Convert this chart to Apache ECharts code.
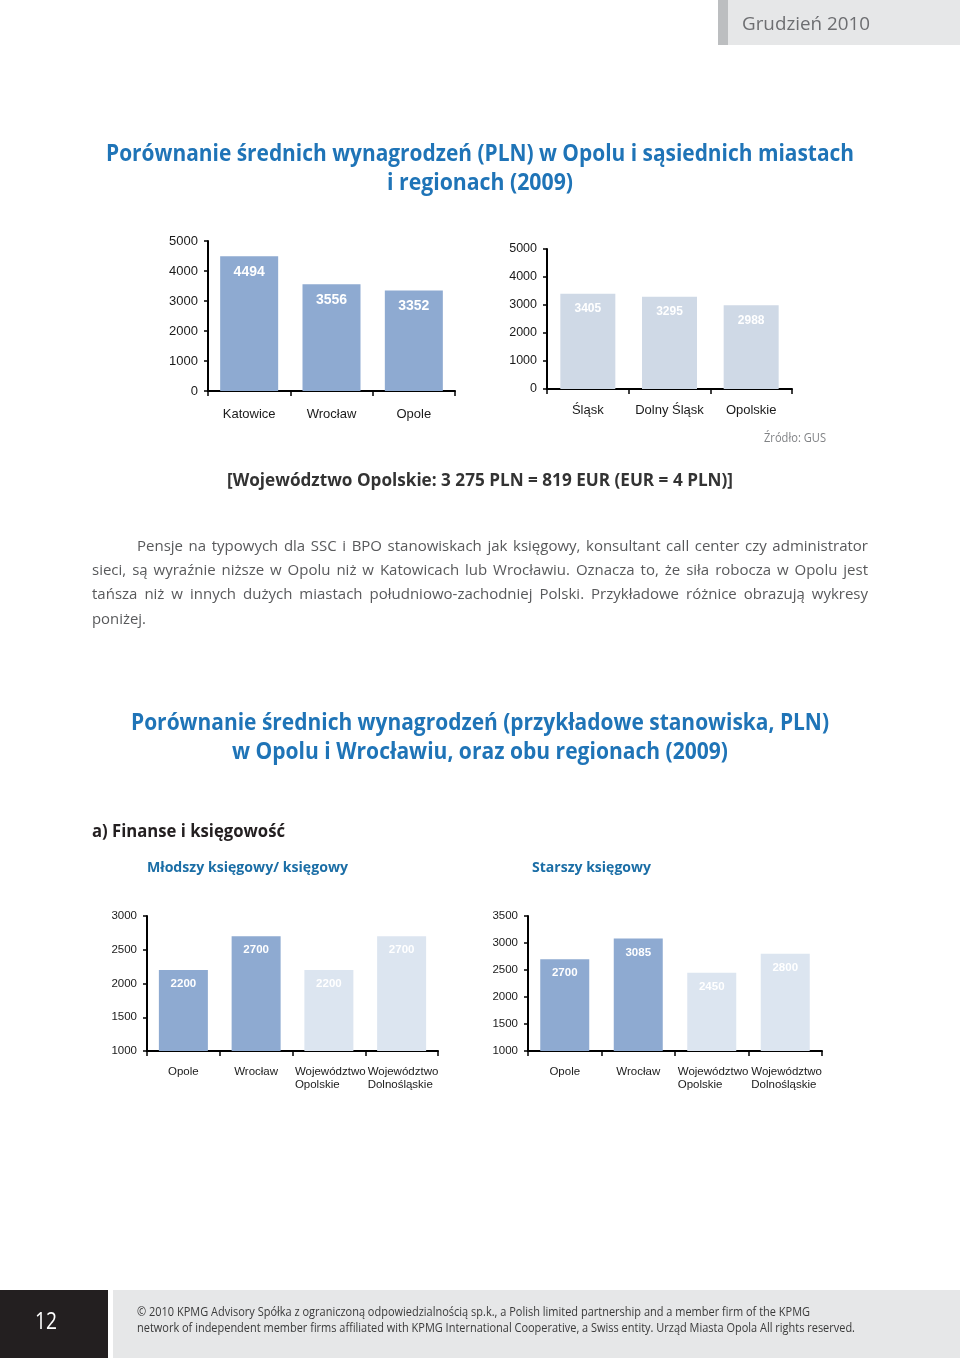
<!DOCTYPE html>
<html><head><meta charset="utf-8">
<script src="https://cdn.jsdelivr.net/npm/echarts@6/dist/echarts.min.js"></script>
<style>html,body{margin:0;padding:0;background:#fff}#c{width:960px;height:1358px}</style>
</head><body><div id="c"></div>
<script>
// ---- data ----
const cities = ['Katowice', 'Wrocław', 'Opole'];
const citySalaries = [4494, 3556, 3352];
const regions = ['Śląsk', 'Dolny Śląsk', 'Opolskie'];
const regionSalaries = [3405, 3295, 2988];
const jobCats = ['Opole', 'Wrocław', 'Województwo\nOpolskie', 'Województwo\nDolnośląskie'];
const juniorAccountant = [2200, 2700, 2200, 2700];
const seniorAccountant = [2700, 3085, 2450, 2800];
const cityTicks = [0, 1000, 2000, 3000, 4000, 5000];
const juniorTicks = [1000, 1500, 2000, 2500, 3000];
const seniorTicks = [1000, 1500, 2000, 2500, 3000, 3500];

const title1 = ['Porównanie średnich wynagrodzeń (PLN) w Opolu i sąsiednich miastach', 'i regionach (2009)'];
const title2 = ['Porównanie średnich wynagrodzeń (przykładowe stanowiska, PLN)', 'w Opolu i Wrocławiu, oraz obu regionach (2009)'];
const exchangeNote = '[Województwo Opolskie: 3 275 PLN = 819 EUR (EUR = 4 PLN)]';
const paragraph = [
  'Pensje na typowych dla SSC i BPO stanowiskach jak księgowy, konsultant call center czy administrator',
  'sieci, są wyraźnie niższe w Opolu niż w Katowicach lub Wrocławiu. Oznacza to, że siła robocza w Opolu jest',
  'tańsza niż w innych dużych miastach południowo-zachodniej Polski. Przykładowe różnice obrazują wykresy',
  'poniżej.'
];
const footer = [
  '© 2010 KPMG Advisory Spółka z ograniczoną odpowiedzialnością sp.k., a Polish limited partnership and a member firm of the KPMG',
  'network of independent member firms affiliated with KPMG International Cooperative, a Swiss entity. Urząd Miasta Opola All rights reserved.'
];

// ---- styling ----
const DARK = '#8eaad1';
const LIGHT_TOP = '#cfd9e6';
const LIGHT = '#dce5f0';
const BLUE = '#1f74b7';
const FONT = '"Open Sans", "Noto Sans", sans-serif';
const AX_FONT = '"Liberation Sans", Arial, sans-serif';

const mctx = document.createElement('canvas').getContext('2d');
function measure(t, size, weight) { mctx.font = weight + ' ' + size + 'px ' + FONT; return mctx.measureText(t).width; }
function textLine(text, x0, x1, yc, size, weight, color, justify) {
  const words = justify ? text.split(' ') : [text];
  const ws = words.map(w => measure(w, size, weight));
  const sp = measure(' ', size, weight);
  const sum = ws.reduce((a, b) => a + b, 0);
  let s = 1, gap = sp;
  if (x1 != null) {
    const target = x1 - x0;
    if (words.length > 1) {
      const nat = sum + sp * (words.length - 1);
      if (nat <= target) gap = (target - sum) / (words.length - 1); else s = target / nat;
    } else s = target / sum;
  }
  let cx = 0;
  const children = words.map((w, i) => {
    const el = { type: 'text', x: cx, y: 0, style: { text: w, fontSize: size, fontWeight: weight, fontFamily: FONT, fill: color, align: 'left', verticalAlign: 'middle', textAlign: 'left', textVerticalAlign: 'middle' } };
    cx += ws[i] + gap;
    return el;
  });
  return { type: 'group', x: x0, y: yc, scaleX: s, children };
}

const graphic = [
  { type: 'rect', shape: { x: 718, y: 0, width: 10, height: 45 }, style: { fill: '#bcbec0' } },
  { type: 'rect', shape: { x: 728, y: 0, width: 232, height: 45 }, style: { fill: '#e6e7e8' } },
  textLine('Grudzień 2010', 742, 870, 25, 19, 'normal', '#6d6e71', false),
  textLine(title1[0], 106, 854, 154, 23, 'bold', BLUE, false),
  textLine(title1[1], 387, 573, 183, 23, 'bold', BLUE, false),
  textLine('Źródło: GUS', 764, 826, 439, 12, 'normal', '#808285', false),
  textLine(exchangeNote, 227, 733, 481, 17, 'bold', '#333333', false),
  textLine(paragraph[0], 137, 868, 547, 15, 'normal', '#58595b', true),
  textLine(paragraph[1], 92, 868, 571, 15, 'normal', '#58595b', true),
  textLine(paragraph[2], 92, 868, 595, 15, 'normal', '#58595b', true),
  textLine(paragraph[3], 92, 146, 620, 15, 'normal', '#58595b', false),
  textLine(title2[0], 131, 829, 723, 23, 'bold', BLUE, false),
  textLine(title2[1], 232, 728, 752, 23, 'bold', BLUE, false),
  textLine('a) Finanse i księgowość', 92, 285, 832, 17, 'bold', '#231f20', false),
  textLine('Młodszy księgowy/ księgowy', 147, 348, 868, 14.5, 'bold', '#1b6ea6', false),
  textLine('Starszy księgowy', 532, 651, 868, 14.5, 'bold', '#1b6ea6', false),
  { type: 'rect', shape: { x: 0, y: 1290, width: 108, height: 68 }, style: { fill: '#231f20' } },
  { type: 'rect', shape: { x: 113, y: 1290, width: 847, height: 68 }, style: { fill: '#e6e7e8' } },
  textLine('12', 35, 57, 1322, 23, 'normal', '#ffffff', false),
  textLine(footer[0], 137, 810, 1312, 12.5, 'normal', '#3a3a3a', false),
  textLine(footer[1], 137, 855, 1328, 12.5, 'normal', '#3a3a3a', false)
];

const grids = [
  { left: 208, top: 241, width: 247, height: 150 },
  { left: 547, top: 249, width: 245, height: 140 },
  { left: 147, top: 916, width: 291, height: 135 },
  { left: 528, top: 916, width: 294, height: 135 }
];

function xAx(i, data, fs, margin, blockW) {
  const lbl = { interval: 0, color: '#1a1a1a', fontFamily: AX_FONT, fontSize: fs, margin, lineHeight: fs + 2 };
  if (blockW) {
    lbl.formatter = v => v.indexOf('\n') < 0 ? '{b|' + v + '}' : v.split('\n').map(p => '{a|' + p + '}').join('\n');
    lbl.rich = {
      a: { width: blockW, align: 'left', fontFamily: AX_FONT, fontSize: fs, lineHeight: fs + 2, color: '#1a1a1a' },
      b: { align: 'center', fontFamily: AX_FONT, fontSize: fs, lineHeight: fs + 2, color: '#1a1a1a' }
    };
  }
  return {
    type: 'category', gridIndex: i, data,
    axisLine: { lineStyle: { color: '#000', width: 2 } },
    axisTick: { show: true, length: 5, lineStyle: { color: '#000', width: 1.5 }, alignWithLabel: false },
    axisLabel: lbl
  };
}
function yAx(i, ticks, fs) {
  return {
    type: 'value', gridIndex: i, min: ticks[0], max: ticks[ticks.length - 1], interval: ticks[1] - ticks[0],
    axisLine: { show: true, lineStyle: { color: '#000', width: 2 } },
    axisTick: { show: true, length: 4, lineStyle: { color: '#000', width: 1.5 } },
    splitLine: { show: false },
    axisLabel: { color: '#1a1a1a', fontFamily: AX_FONT, fontSize: fs, margin: 10, formatter: v => String(v) }
  };
}
function barSeries(i, vals, colors, width, fs, dist) {
  return {
    type: 'bar', xAxisIndex: i, yAxisIndex: i, barWidth: width,
    data: vals.map((v, k) => ({ value: v, itemStyle: { color: colors[k] } })),
    label: { show: true, position: 'insideTop', distance: dist, color: '#ffffff', fontWeight: 'bold', fontFamily: AX_FONT, fontSize: fs }
  };
}

const option = {
  animation: false,
  backgroundColor: '#ffffff',
  grid: grids,
  xAxis: [xAx(0, cities, 13, 16), xAx(1, regions, 13, 14), xAx(2, jobCats, 11.5, 14, 68), xAx(3, jobCats, 11.5, 14, 68)],
  yAxis: [yAx(0, cityTicks, 13), yAx(1, cityTicks, 12.5), yAx(2, juniorTicks, 11.5), yAx(3, seniorTicks, 11.5)],
  series: [
    barSeries(0, citySalaries, [DARK, DARK, DARK], 58, 14, 9),
    barSeries(1, regionSalaries, [LIGHT_TOP, LIGHT_TOP, LIGHT_TOP], 55, 12, 9),
    barSeries(2, juniorAccountant, [DARK, DARK, LIGHT, LIGHT], 49, 11.5, 8),
    barSeries(3, seniorAccountant, [DARK, DARK, LIGHT, LIGHT], 49, 11.5, 8)
  ],
  graphic
};
const chart = echarts.init(document.getElementById('c'), null, { renderer: 'canvas' });
chart.setOption(option);
</script></body></html>
